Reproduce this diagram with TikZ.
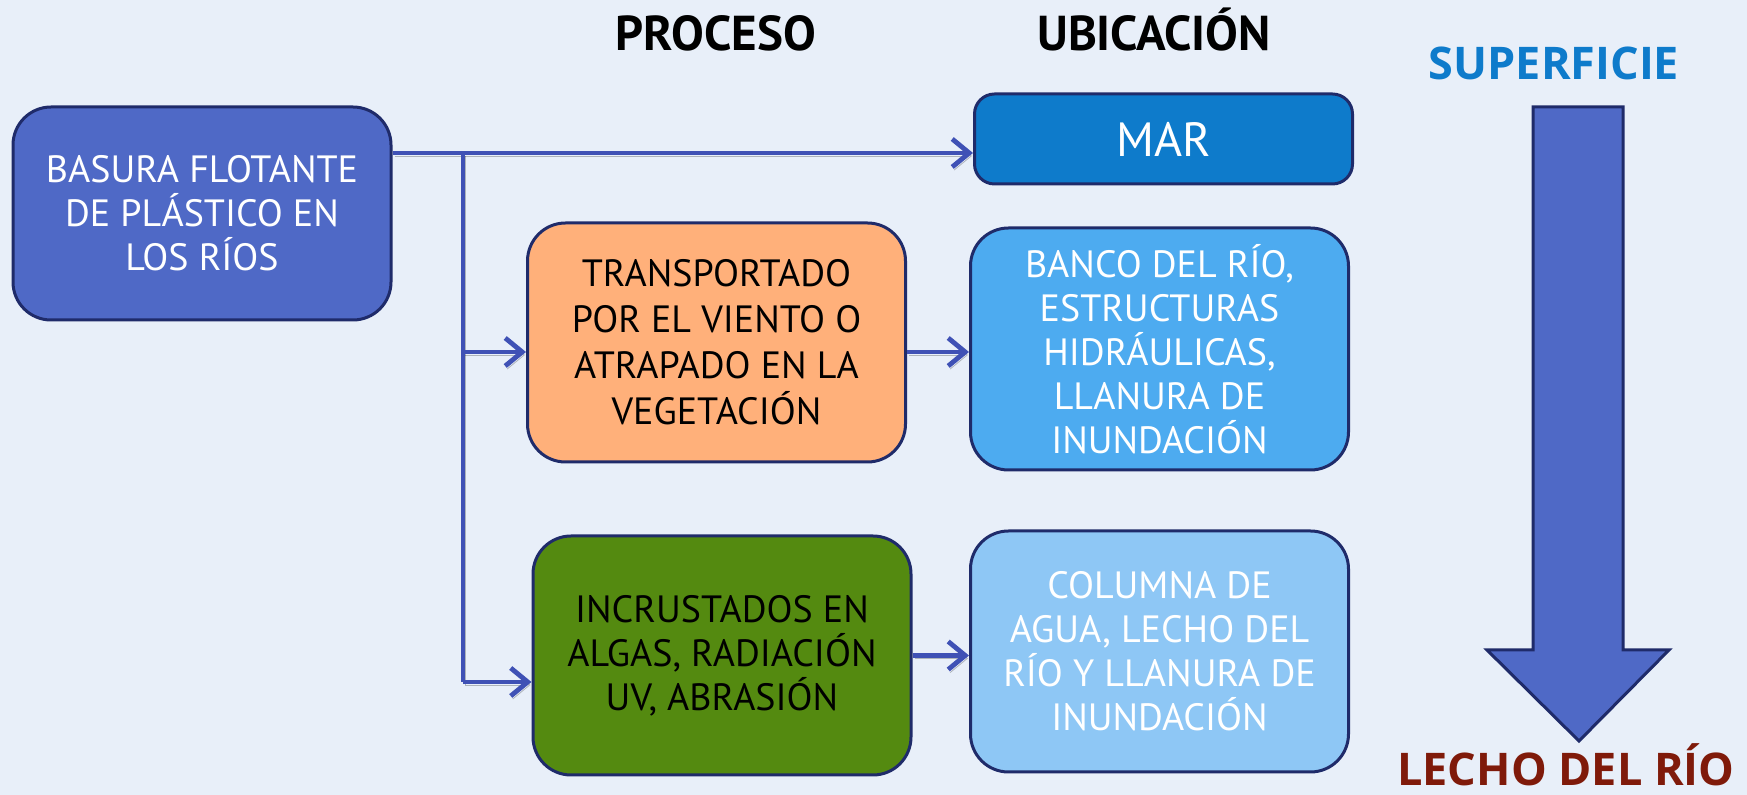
\documentclass[tikz,border=0pt]{standalone}
\usepackage{fontspec}
\setmainfont{PT Sans}
\newfontfamily\rotulo{Open Sans}
\usetikzlibrary{arrows.meta}

\definecolor{fondo}{RGB}{232,239,249}
\definecolor{borde}{RGB}{31,43,106}
\definecolor{flujo}{RGB}{63,81,181}
\definecolor{azulrio}{RGB}{79,105,198}
\definecolor{azulmar}{RGB}{14,123,203}
\definecolor{naranja}{RGB}{255,176,122}
\definecolor{celeste}{RGB}{77,171,240}
\definecolor{verde}{RGB}{84,138,16}
\definecolor{cielo}{RGB}{142,199,245}
\definecolor{granate}{RGB}{127,26,10}

\tikzset{
  caja/.style={draw=borde, line width=1.5pt, rounded corners=19pt, align=center,
    inner sep=0pt, minimum width=189pt, font=\fontsize{19}{22}\selectfont},
  flecha/.style={draw=flujo, line width=2.4pt, -{Straight Barb[length=8.5pt,width=14pt]},
    preaction={draw=black, opacity=0.25, transform canvas={shift={(1pt,-1.5pt)}}}},
  titulo/.style={anchor=base, font=\fontsize{24.5}{27}\selectfont\bfseries},
  extremo/.style={anchor=base, font=\fontsize{22.5}{26}\selectfont\rotulo\bfseries},
}

\begin{document}
\begin{tikzpicture}[x=0.5pt, y=-0.5pt]
			%%%%% START %%%%%
			
			\fill[fondo] (0,0) rectangle (1747,795);
			\useasboundingbox (0,0) rectangle (1747,795);
			
			\node[titulo] (proceso) at (716,51) {PROCESO};
			\node[titulo] (ubicacion) at (1154,51) {UBICACIÓN};
			
			\node[caja, fill=azulrio, text=white, minimum height=106.5pt] (basura) at (202,213.5)
				{BASURA FLOTANTE\\ DE PLÁSTICO EN\\ LOS RÍOS};
			\node[caja, fill=azulmar, text=white, rounded corners=10pt, minimum height=45pt,
				font=\fontsize{24}{26}\selectfont] (mar) at (1163.5,139) {MAR};
			
			\node[caja, fill=naranja, minimum height=119.5pt, font=\fontsize{19}{23}\selectfont] (viento) at (716.5,342.5)
				{TRANSPORTADO\\ POR EL VIENTO O\\ ATRAPADO EN LA\\ VEGETACIÓN};
			\node[caja, fill=celeste, text=white, minimum height=121pt] (banco) at (1159.5,349)
				{BANCO DEL RÍO,\\ ESTRUCTURAS\\ HIDRÁULICAS,\\ LLANURA DE\\ INUNDACIÓN};
			
			\node[caja, fill=verde, minimum height=119.5pt] (algas) at (722,655.5)
				{INCRUSTADOS EN\\ ALGAS, RADIACIÓN\\ UV, ABRASIÓN};
			\node[caja, fill=cielo, text=white, minimum height=120.5pt] (columna) at (1159.5,651.5)
				{COLUMNA DE\\ AGUA, LECHO DEL\\ RÍO Y LLANURA DE\\ INUNDACIÓN};
			
			% reparto desde la basura flotante
			\coordinate (split) at (463,153);
			\coordinate (tap) at (463,352);
			\coordinate (knee) at (463,682);
			
			\draw[flecha] (split -| basura.east) -- (split -| mar.west);
			\draw[flecha, -] (split) -- (knee);
			\draw[flecha] (tap) -- (tap -| viento.west);
			\draw[flecha] (knee) -- (knee -| algas.west);
			\draw[flecha] (tap -| viento.east) -- (tap -| banco.west);
			\draw[flecha] (algas.east) -- (algas.east -| columna.west);
			
			% profundidad
			\node[extremo, text=azulmar] (superficie) at (1554,80) {SUPERFICIE};
			\draw[line width=1.5pt, draw=borde, fill=azulrio] (1533,107) -- (1623,107) -- (1623,650)
				-- (1669,650) -- (1579,741) -- (1487,650) -- (1533,650) -- cycle;
			\node[extremo, text=granate] (lecho) at (1566,786) {LECHO DEL RÍO};
			
			%%%%% END %%%%%
\end{tikzpicture}
\end{document}
